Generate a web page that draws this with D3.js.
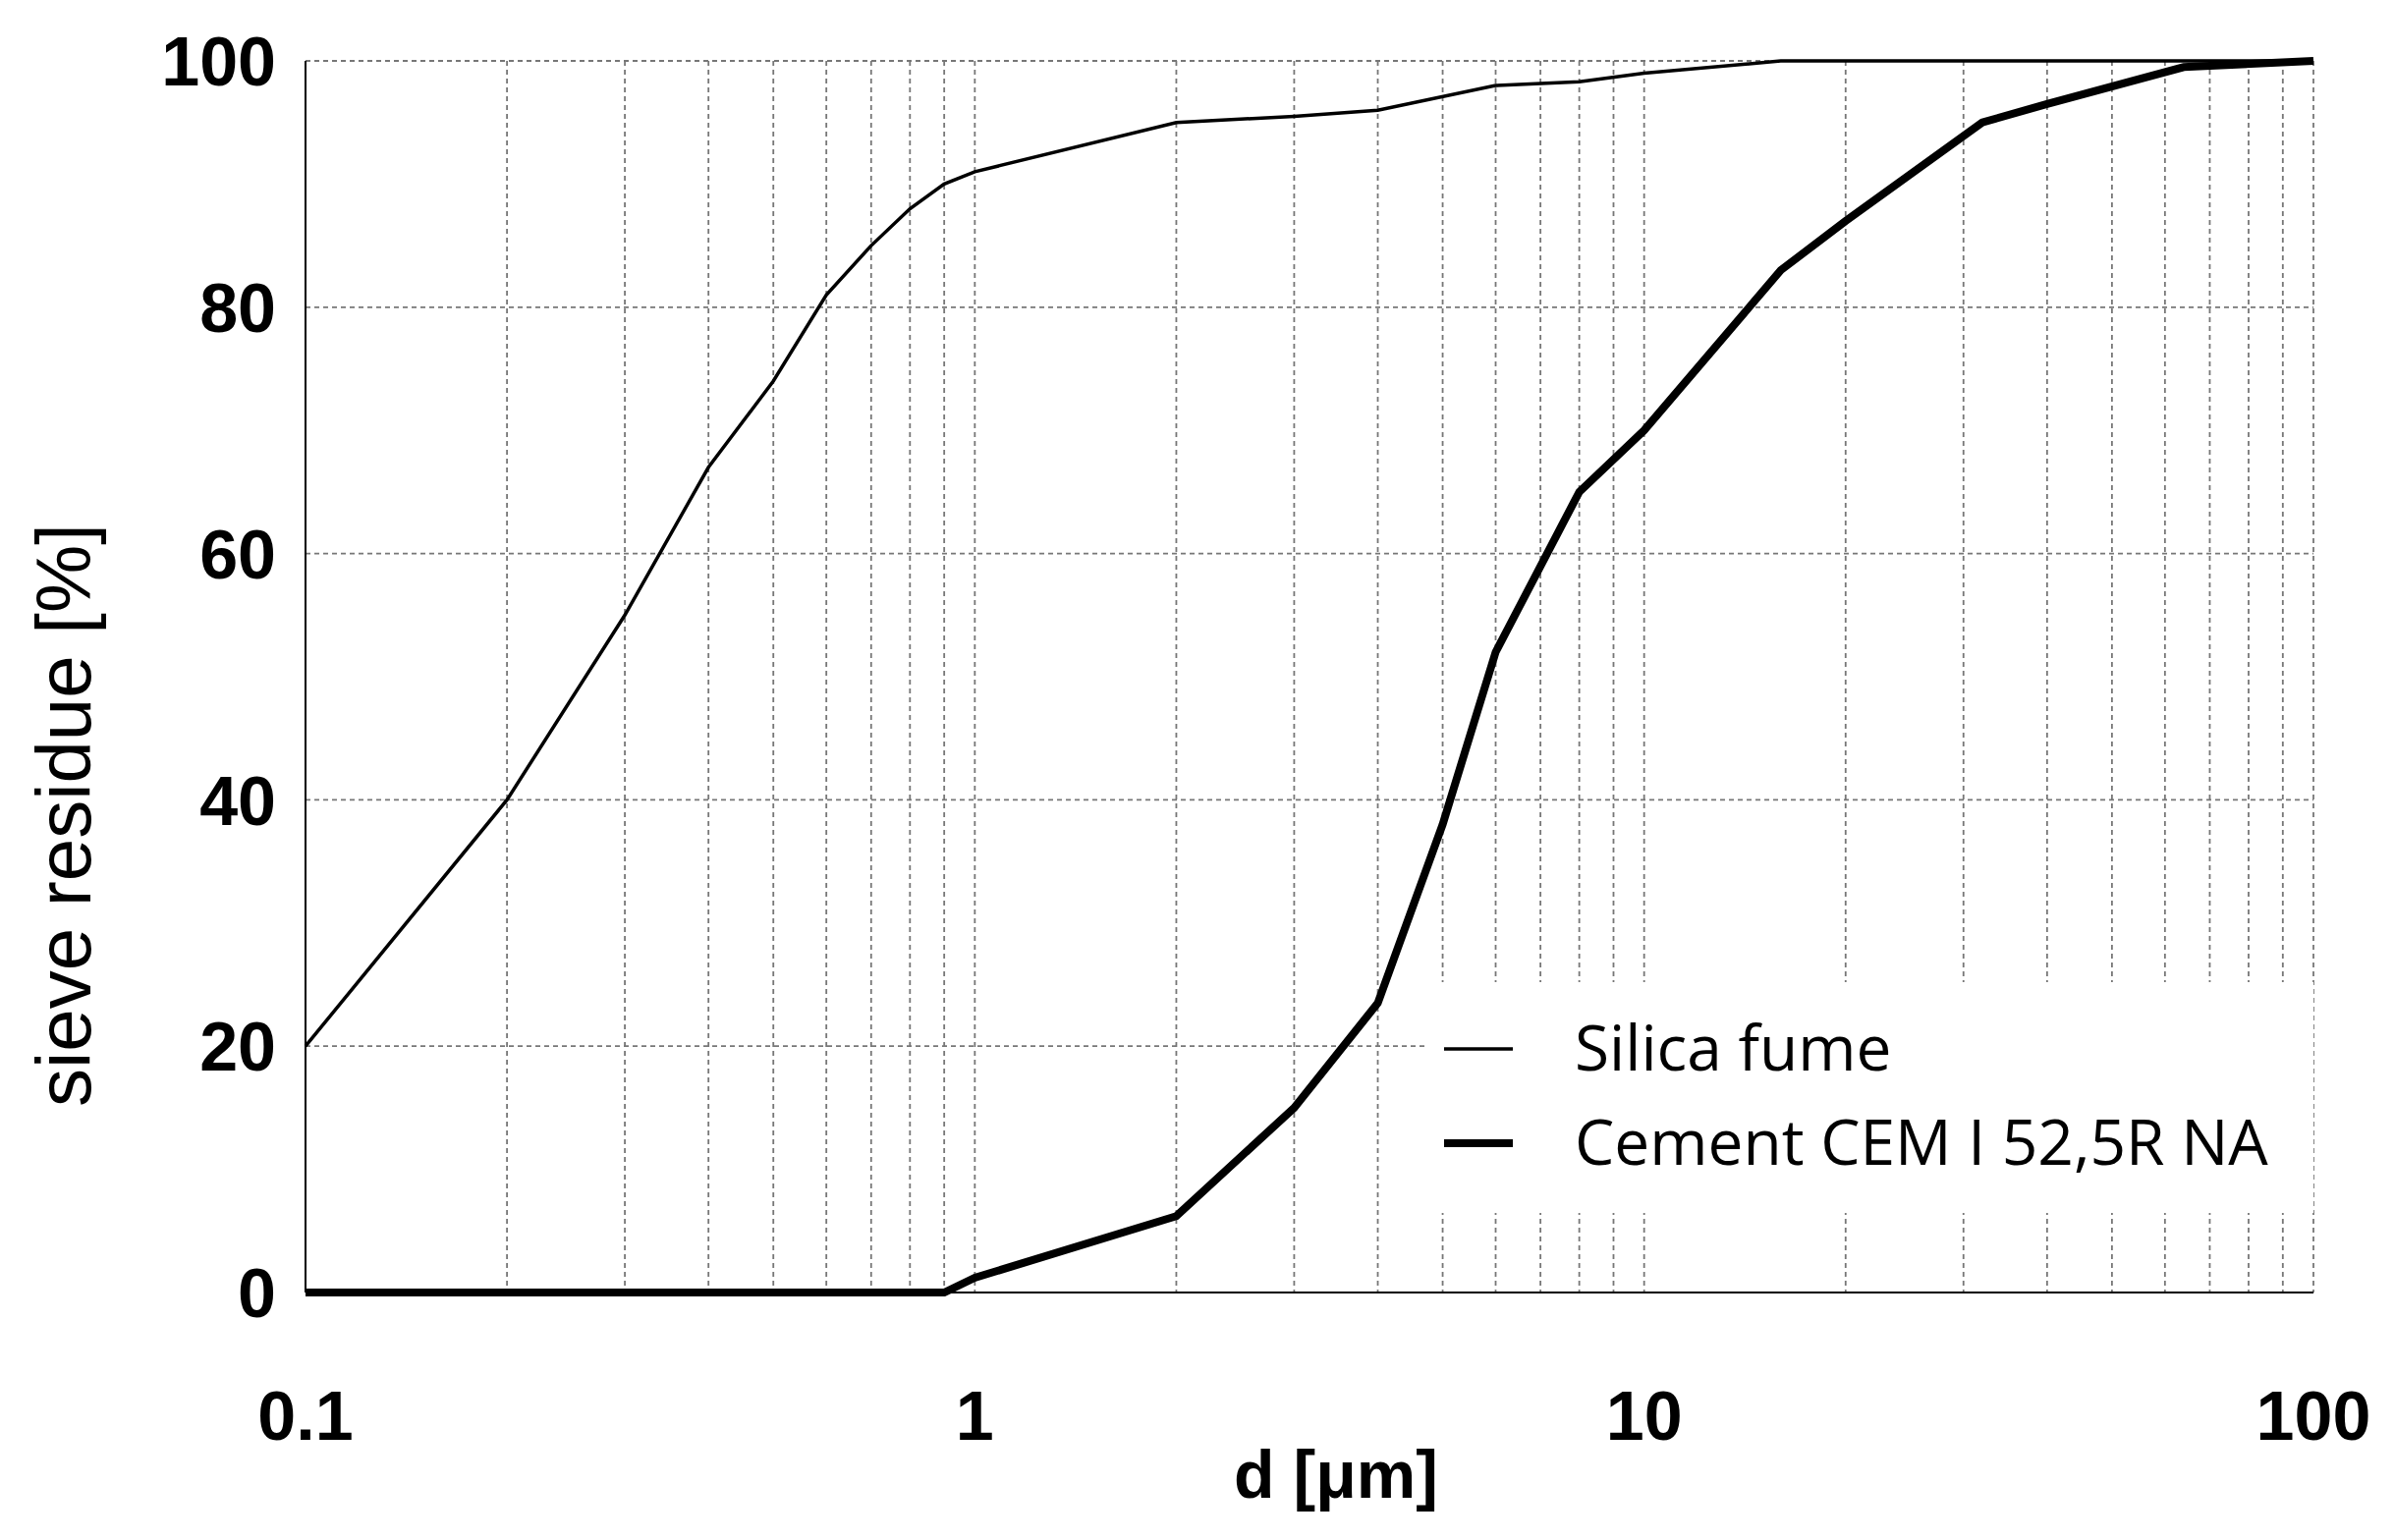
<!DOCTYPE html>
<html><head><meta charset="utf-8">
<script src="https://cdn.jsdelivr.net/npm/d3@7"></script>
<style>body{margin:0;background:#fff}</style></head>
<body><svg id="c" width="2437" height="1568"></svg>
<script>
const silicaD=[0.1,0.2,0.3,0.4,0.5,0.6,0.7,0.8,0.9,1,2,3,4,6,8,10,16,100];
const silicaV=[20,40,55,67,74,81,85,88,90,91,95,95.5,96,98,98.3,99,100,100];
const cementD=[0.1,0.9,1,2,3,4,5,6,8,10,16,20,32,40,64,100];
const cementV=[0,0,1.2,6.2,15,23.5,38,52,65,70,83,87,95,96.5,99.5,100];
const xTicks=[0.1,1,10,100];
const yTicks=[0,20,40,60,80,100];
const legendLabels=["Silica fume","Cement CEM I 52,5R NA"];

const svg=d3.select("#c");
const L=311,R=2355,T=62,B=1316;
const x=d3.scaleLog().domain([0.1,100]).range([L,R]);
const y=d3.scaleLinear().domain([0,100]).range([B,T]);
const g=svg.append("g");
const minor=[];for(const dec of [0.1,1,10])for(let k=2;k<=9;k++)minor.push(dec*k);
g.selectAll(".vm").data(minor.concat([1,10,100])).join("line")
 .attr("x1",d=>x(d)).attr("x2",d=>x(d)).attr("y1",T).attr("y2",B)
 .attr("stroke","#777").attr("stroke-width",1.8).attr("stroke-dasharray","5,4");
g.selectAll(".hm").data(yTicks.slice(1)).join("line")
 .attr("x1",L).attr("x2",R).attr("y1",d=>y(d)).attr("y2",d=>y(d))
 .attr("stroke","#777").attr("stroke-width",1.8).attr("stroke-dasharray","5,4");
g.append("line").attr("x1",L).attr("x2",L).attr("y1",T).attr("y2",B).attr("stroke","#000").attr("stroke-width",2);
g.append("line").attr("x1",L).attr("x2",R).attr("y1",B).attr("y2",B).attr("stroke","#000").attr("stroke-width",2);

const font="Liberation Sans, Arial, sans-serif";
g.selectAll(".yt").data(yTicks).join("text").attr("x",L-30).attr("y",d=>y(d)).attr("dy","0.36em")
 .attr("text-anchor","end").attr("font-family",font).attr("font-weight","bold").attr("font-size",70).text(d=>d);
g.selectAll(".xt").data(xTicks).join("text").attr("x",d=>x(d)).attr("y",B+150)
 .attr("text-anchor","middle").attr("font-family",font).attr("font-weight","bold").attr("font-size",70).text(d=>d);
svg.append("text").attr("transform",`translate(${92},${830}) rotate(-90)`).attr("text-anchor","middle")
 .attr("font-family",font).attr("font-size",78).text("sieve residue [%]");
svg.append("text").attr("x",1360).attr("y",1525).attr("text-anchor","middle")
 .attr("font-family",font).attr("font-weight","bold").attr("font-size",68).text("d [μm]");

const line=d3.line().x(d=>x(d[0])).y(d=>y(d[1]));
svg.append("path").attr("d",line(d3.zip(silicaD,silicaV))).attr("fill","none").attr("stroke","#000").attr("stroke-width",3.5);
svg.append("path").attr("d",line(d3.zip(cementD,cementV))).attr("fill","none").attr("stroke","#000").attr("stroke-width",8);

const lg=svg.append("g");
lg.append("rect").attr("x",1450).attr("y",1000).attr("width",905).attr("height",235).attr("fill","#fff");
legendLabels.forEach((t,i)=>{
 const yy=1068+i*96;
 lg.append("line").attr("x1",1470).attr("x2",1540).attr("y1",yy).attr("y2",yy).attr("stroke","#000").attr("stroke-width",i?8:3.5);
 lg.append("text").attr("x",1603).attr("y",yy).attr("dy","0.35em").attr("font-family","Open Sans, sans-serif").attr("font-size",64).text(t);
});
</script></body></html>
